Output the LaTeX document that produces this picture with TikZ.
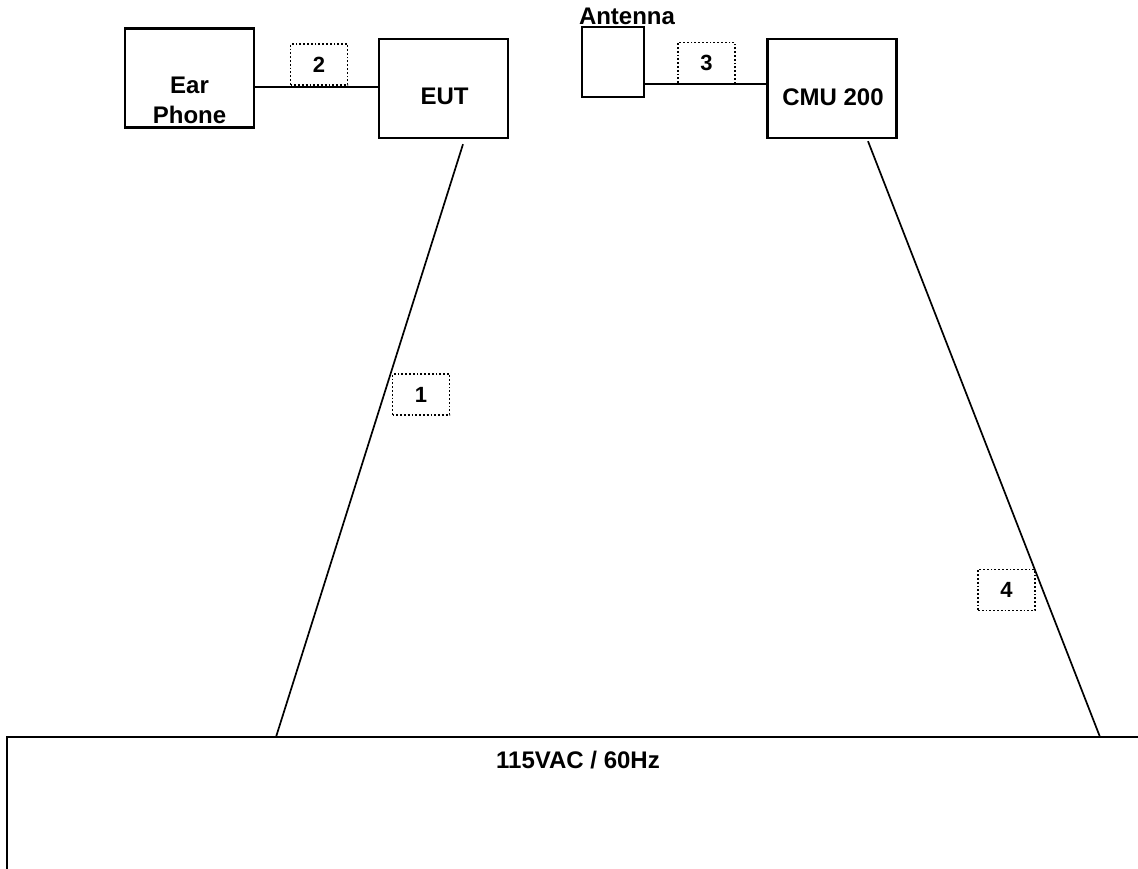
\documentclass[tikz,border=0pt]{standalone}
\usepackage{fontspec}
\setmainfont{Liberation Sans}
\usetikzlibrary{positioning, calc}

\begin{document}
\begin{tikzpicture}[x=1pt, y=-1pt,
    every node/.style={font=\fontsize{24}{30}\selectfont\bfseries},
    unit/.style={draw=black, line width=2.4pt, minimum width=129pt, minimum height=99pt, inner sep=0pt},
    tag/.style={draw=black, dotted, line width=1.8pt, minimum width=57pt, minimum height=41pt, inner sep=0pt, font=\fontsize{22}{26}\selectfont\bfseries},
    cable/.style={line width=1.7pt},
    txt/.style={inner sep=0pt, anchor=base}]
    \useasboundingbox (0,0) rectangle (1138,869);
    % equipment
    \node[unit] (ear) at (189.5,78) {};
    \node[unit] (eut) at (443.5,88.5) {};
    \node[unit, minimum width=62pt, minimum height=70pt] (ant) at (613,62) {};
    \node[unit] (cmu) at (832,88.5) {};
    \node[txt, align=center] (eartxt) at (189.5,124) {Ear\\Phone};
    \node[txt] (euttxt) at (444.5,105) {EUT};
    \node[txt] (cmutxt) at (833,106) {CMU 200};
    \node[txt] (anttxt) at (627,25) {Antenna};
    % mains strip
    \coordinate (mainsL) at (7,737);
    \coordinate (mainsR) at (1138,737);
    \coordinate (mainsB) at (7,869);
    \coordinate (p1) at (276,737);
    \coordinate (p4) at (1100,737);
    \draw[line width=2.4pt] (mainsB) -- (mainsL) -- (mainsR);
    \node[txt] (mains) at (578,768) {115VAC / 60Hz};
    % cables
    \draw[cable] (ear.east |- 0,87) -- (eut.west |- 0,87);
    \draw[cable] (ant.east |- 0,84) -- (cmu.west |- 0,84);
    \draw[cable] ([xshift=19.5pt,yshift=-5pt]eut.south) -- (p1);
    \draw[cable] ([xshift=36pt,yshift=-2pt]cmu.south) -- (p4);
    % cable numbers
    \node[tag] (c2) at (319,64.5) {2};
    \node[tag] (c3) at (706.5,63) {3};
    \node[tag] (c1) at (421,394.5) {1};
    \node[tag] (c4) at (1006.5,590) {4};
\end{tikzpicture}
\end{document}
